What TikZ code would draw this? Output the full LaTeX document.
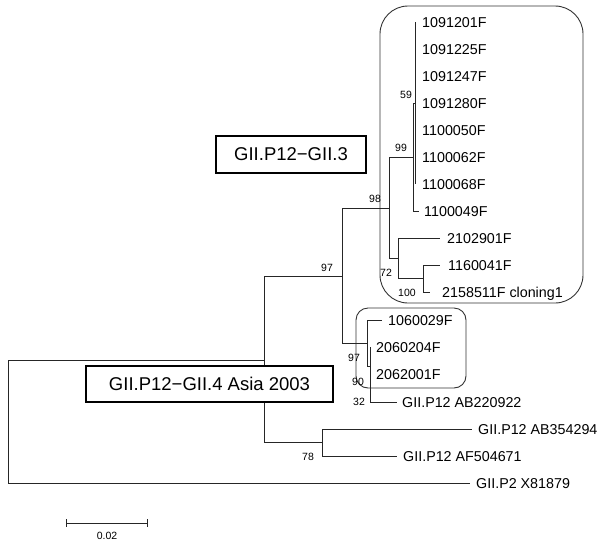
\documentclass[tikz,border=0pt]{standalone}
\usepackage{fontspec}
\setmainfont{Liberation Sans}
\usetikzlibrary{calc}
\begin{document}
\begin{tikzpicture}[x=1pt,y=-1pt,
  br/.style={line width=0.9pt,black!85},
  leaf/.style={anchor=west,inner sep=0pt,font=\fontsize{14.3}{16}\selectfont,text height=10.2pt,text depth=0pt},
  boot/.style={inner sep=0pt,font=\fontsize{10.5}{12}\selectfont},
  cladebox/.style={draw=black!80,line width=0.9pt},
  namebox/.style={draw=black,line width=2pt,fill=white,font=\fontsize{18.5}{20}\selectfont}]
\useasboundingbox (0,0) rectangle (602,544);
% ---------- coordinates of tree nodes ----------
\coordinate (r0) at (8,360);   \coordinate (r1) at (8,483);
\coordinate (a0) at (264,360); \coordinate (a1) at (264,276); \coordinate (a2) at (264,442.5);
\coordinate (b1) at (342,276); \coordinate (b0) at (342,208); \coordinate (b2) at (342,343);
\coordinate (c1) at (322,442.5); \coordinate (c0) at (322,429); \coordinate (c2) at (322,456);
\coordinate (d1) at (389,208); \coordinate (d0) at (389,157); \coordinate (d2) at (389,258.5);
\coordinate (e1) at (413,157); \coordinate (e0) at (413,103); \coordinate (e2) at (413,211);
\coordinate (f1) at (415.5,103); \coordinate (f0) at (415.5,22); \coordinate (f2) at (415.5,184);
\coordinate (g1) at (398,258.5); \coordinate (g0) at (398,238); \coordinate (g2) at (398,278.5);
\coordinate (h1) at (423,278.5); \coordinate (h0) at (423,265); \coordinate (h2) at (423,292);
\coordinate (k1) at (367,343); \coordinate (k0) at (367,320); \coordinate (k2) at (367,366);
\coordinate (m1) at (370,366); \coordinate (m0) at (370,347); \coordinate (m2) at (370,402);
% ---------- leaf tips ----------
\coordinate (t18) at (470,483);
\coordinate (t16) at (472,429); \coordinate (t17) at (397,456);
\coordinate (t8) at (419,211);
\coordinate (t9) at (440,238); \coordinate (t10) at (440,265); \coordinate (t11) at (430,292);
\coordinate (t12) at (382,320); \coordinate (t15) at (397,402);
% ---------- clade boxes ----------
\draw[cladebox,rounded corners=28pt] (380,6) rectangle (583,303);
\draw[cladebox,rounded corners=12pt] (356,308) rectangle (466,388);
% ---------- branches ----------
\draw[br] (r0) -- (r1);
\draw[br] (r0) -- (a0);
\draw[br] (r1) -- (t18);
\draw[br] (a1) -- (a2);
\draw[br] (a1) -- (b1);
\draw[br] (a2) -- (c1);
\draw[br] (c0) -- (c2);
\draw[br] (c0) -- (t16);
\draw[br] (c2) -- (t17);
\draw[br] (b0) -- (b2);
\draw[br] (b0) -- (d1);
\draw[br] (b2) -- (k1);
\draw[br] (d0) -- (d2);
\draw[br] (d0) -- (e1);
\draw[br] (d2) -- (g1);
\draw[br] (e0) -- (e2);
\draw[br] (e2) -- (t8);
\draw[br] (e0) -- (f1);
\draw[br] (f0) -- (f2);
\draw[br] (g0) -- (g2);
\draw[br] (g0) -- (t9);
\draw[br] (g2) -- (h1);
\draw[br] (h0) -- (h2);
\draw[br] (h0) -- (t10);
\draw[br] (h2) -- (t11);
\draw[br] (k0) -- (k2);
\draw[br] (k0) -- (t12);
\draw[br] (k2) -- (m1);
\draw[br] (m0) -- (m2);
\draw[br] (m2) -- (t15);
% ---------- leaf labels ----------
\node[leaf] (l1) at (422,22) {1091201F};
\node[leaf] (l2) at (422,49) {1091225F};
\node[leaf] (l3) at (422,76) {1091247F};
\node[leaf] (l4) at (422,103) {1091280F};
\node[leaf] (l5) at (422,130) {1100050F};
\node[leaf] (l6) at (422,157) {1100062F};
\node[leaf] (l7) at (422,184) {1100068F};
\node[leaf] (l8) at (424,211) {1100049F};
\node[leaf] (l9) at (447,238) {2102901F};
\node[leaf] (l10) at (448,265) {1160041F};
\node[leaf] (l11) at (442,292) {2158511F cloning1};
\node[leaf] (l12) at (388,320) {1060029F};
\node[leaf] (l13) at (376,347) {2060204F};
\node[leaf] (l14) at (376,374) {2062001F};
\node[leaf] (l15) at (402,402) {GII.P12 AB220922};
\node[leaf] (l16) at (478,429) {GII.P12 AB354294};
\node[leaf] (l17) at (403,456) {GII.P12 AF504671};
\node[leaf] (l18) at (476,483) {GII.P2 X81879};
% ---------- bootstrap values ----------
\node[boot] (bs59) at (406,95) {59};
\node[boot] (bs99) at (401,148) {99};
\node[boot] (bs98) at (375,199) {98};
\node[boot] (bs97a) at (327,268) {97};
\node[boot] (bs72) at (386,273) {72};
\node[boot] (bs100) at (407,293) {100};
\node[boot] (bs97b) at (354,358) {97};
\node[boot] (bs90) at (358,382) {90};
\node[boot] (bs32) at (359,402) {32};
\node[boot] (bs78) at (308,457) {78};
% ---------- group labels ----------
\node[namebox,minimum width=150pt,minimum height=37pt,inner sep=0pt] (g3) at (291,154.5) {GII.P12−GII.3};
\node[namebox,minimum width=247pt,minimum height=36pt,inner sep=0pt] (g4) at (209.5,384) {GII.P12−GII.4 Asia 2003};
% ---------- scale bar ----------
\coordinate (s0) at (66,523); \coordinate (s1) at (147,523);
\draw[br] (s0) -- (s1);
\draw[br] ($(s0)+(0,-4)$) -- ($(s0)+(0,4)$);
\draw[br] ($(s1)+(0,-4)$) -- ($(s1)+(0,4)$);
\node[boot] (sl) at (107,536) {0.02};
\end{tikzpicture}
\end{document}
